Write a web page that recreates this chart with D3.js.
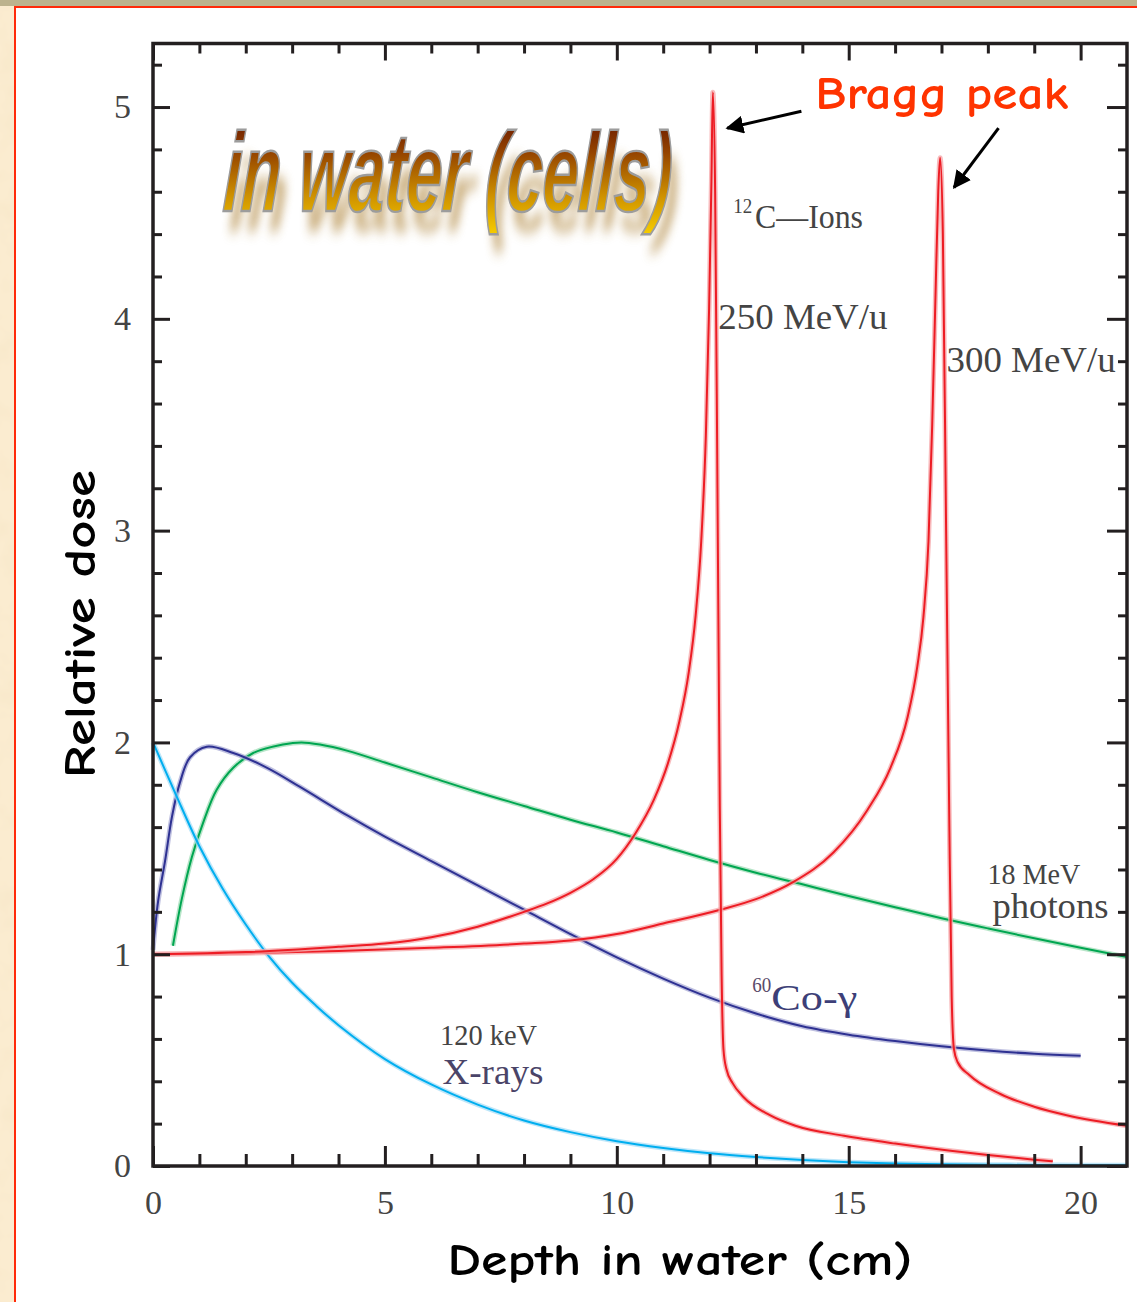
<!DOCTYPE html>
<html>
<head>
<meta charset="utf-8">
<script src="https://cdn.jsdelivr.net/npm/d3@7"></script>
<style>
  html, body { margin: 0; padding: 0; background: #ffffff; overflow: hidden; }
  svg { display: block; }
</style>
</head>
<body>
<svg id="chart" width="1137" height="1302"></svg>
<script>
// ---- Depth-dose data (depth in cm, relative dose) ----
const xrayDepth = [0,0.5,1,1.5,2,2.5,3,3.5,4,5,6,7,8,9,10,11,12,13,14,15,16,17,18,19,20,21];
const xrayDose  = [2.0,1.75,1.51,1.31,1.14,0.99,0.865,0.76,0.665,0.505,0.385,0.29,0.215,0.16,0.117,0.085,0.06,0.042,0.028,0.018,0.012,0.008,0.006,0.005,0.004,0.003];

const cobaltDepth = [0,0.11,0.26,0.41,0.58,0.8,1.16,1.73,2.46,3.17,4.19,5,6,7,8,9,10,11,12,13,14,15,16,17,18,19,20];
const cobaltDose  = [1.02,1.25,1.44,1.65,1.81,1.93,1.98,1.95,1.88,1.79,1.655,1.555,1.44,1.325,1.21,1.095,0.985,0.885,0.795,0.72,0.66,0.62,0.59,0.565,0.545,0.53,0.52];

const photonDepth = [0.43,0.62,0.84,1.08,1.37,1.73,2.16,2.8,3.2,3.6,4.2,5,6,7,8,9,10,11,12,13,14,15,16,17,18,19,20,21];
const photonDose  = [1.04,1.26,1.46,1.62,1.775,1.88,1.95,1.99,2.0,1.99,1.96,1.905,1.835,1.765,1.7,1.635,1.575,1.51,1.445,1.385,1.33,1.275,1.222,1.17,1.122,1.075,1.03,0.987];

const carbon250Depth = [0,2,4,5,6,7,8,8.5,9,9.5,10,10.4,10.8,11.1,11.35,11.55,11.7,11.82,11.92,11.99,12.04,12.07,12.12,12.17,12.22,12.26,12.3,12.36,12.5,12.73,13.3,13.85,14.9,16,17.15,18,19,19.4];
const carbon250Dose  = [1.0,1.01,1.035,1.05,1.08,1.13,1.2,1.24,1.29,1.355,1.45,1.57,1.73,1.9,2.1,2.33,2.6,2.95,3.45,4.05,4.65,5.07,4.6,3.2,1.7,0.9,0.55,0.46,0.39,0.326,0.24,0.19,0.143,0.106,0.073,0.052,0.03,0.022];

const carbon300Depth = [0,2,4,6,8,9,10,11,12.23,13,13.8,14.67,15.4,15.9,16.27,16.48,16.61,16.72,16.8,16.87,16.93,16.97,17.03,17.1,17.17,17.22,17.27,17.35,17.6,18.27,19,19.7,21];
const carbon300Dose  = [1.0,1.005,1.015,1.03,1.05,1.065,1.095,1.145,1.21,1.26,1.34,1.48,1.68,1.88,2.12,2.36,2.59,2.95,3.5,4.1,4.6,4.76,4.4,3.0,1.6,0.8,0.55,0.49,0.43,0.34,0.28,0.24,0.19];

// ---- Axis ticks ----
const xMajorTicks = [0,5,10,15,20];
const xTickLabels = ["0","5","10","15","20"];
const yMajorTicks = [0,1,2,3,4,5];
const yTickLabels = ["0","1","2","3","4","5"];

const svg = d3.select("#chart");
const W = 1137, H = 1302;

const x = d3.scaleLinear().domain([0, 21]).range([153, 1127]);
const y = d3.scaleLinear().domain([0, 5.3]).range([1166, 43.5]);

const defs = svg.append("defs");

// paper texture for the slide border
const paper = defs.append("filter").attr("id", "paper").attr("x", 0).attr("y", 0).attr("width", 1).attr("height", 1);
paper.append("feTurbulence").attr("type", "fractalNoise").attr("baseFrequency", 0.035).attr("numOctaves", 3).attr("seed", 7).attr("result", "noise");
paper.append("feColorMatrix").attr("in", "noise").attr("type", "matrix")
  .attr("values", "0 0 0 0 0.93  0 0 0 0 0.80  0 0 0 0 0.58  1.6 0 0 0 -0.7");

// WordArt gradient + shadow blur
const grad = defs.append("linearGradient").attr("id", "goldGrad")
  .attr("x1", 0).attr("y1", 0).attr("x2", 0).attr("y2", 1);
grad.append("stop").attr("offset", "0%").attr("stop-color", "#5c0c00");
grad.append("stop").attr("offset", "35%").attr("stop-color", "#954400");
grad.append("stop").attr("offset", "70%").attr("stop-color", "#cf9200");
grad.append("stop").attr("offset", "100%").attr("stop-color", "#f6cc00");
defs.append("filter").attr("id", "softShadow").attr("x", "-10%").attr("y", "-30%").attr("width", "120%").attr("height", "160%")
  .append("feGaussianBlur").attr("stdDeviation", 4.5);

// arrowhead
defs.append("marker").attr("id", "arrowHead")
  .attr("viewBox", "0 0 10 10").attr("refX", 9).attr("refY", 5)
  .attr("markerWidth", 6).attr("markerHeight", 6).attr("markerUnits", "strokeWidth")
  .attr("orient", "auto")
  .append("path").attr("d", "M0,0 L10,5 L0,10 Z").attr("fill", "#000");

// ---- Slide background ----
svg.append("rect").attr("width", W).attr("height", H).attr("fill", "#fbecd0");
svg.append("rect").attr("width", W).attr("height", H).attr("filter", "url(#paper)");
svg.append("rect").attr("x", 0).attr("y", 0).attr("width", W).attr("height", 6).attr("fill", "#bcb38e");
svg.append("rect").attr("x", 15).attr("y", 7).attr("width", W + 20).attr("height", H + 20)
  .attr("fill", "#ffffff").attr("stroke", "#ff2a0a").attr("stroke-width", 2);

// ---- Curves ----
const smoothLine = d3.line().x(d => x(d[0])).y(d => y(d[1])).curve(d3.curveCatmullRom.alpha(0.5));
const peakLine = d3.line().x(d => x(d[0])).y(d => y(d[1])).curve(d3.curveMonotoneX);

const series = [
  { depth: photonDepth,   dose: photonDose,   color: "#00a651", halo: "#9fdcb6", gen: smoothLine },
  { depth: cobaltDepth,   dose: cobaltDose,   color: "#2e3192", halo: "#a9abd6", gen: smoothLine },
  { depth: xrayDepth,     dose: xrayDose,     color: "#00aeef", halo: "#a8def7", gen: smoothLine },
  { depth: carbon300Depth, dose: carbon300Dose, color: "#ed1c24", halo: "#f6a5a8", gen: peakLine },
  { depth: carbon250Depth, dose: carbon250Dose, color: "#ed1c24", halo: "#f6a5a8", gen: peakLine }
];

const curves = svg.append("g").attr("fill", "none");
series.forEach(s => {
  const pts = d3.zip(s.depth, s.dose);
  curves.append("path").attr("d", s.gen(pts)).attr("stroke", s.halo)
    .attr("stroke-width", 5).attr("stroke-opacity", 0.75).attr("stroke-linejoin", "round");
  curves.append("path").attr("d", s.gen(pts)).attr("stroke", s.color)
    .attr("stroke-width", 2).attr("stroke-linejoin", "round");
});

// ---- Frame and ticks ----
const axisColor = "#231f20";
function styleTicks(g) {
  g.select(".domain").remove();
  g.selectAll(".tick line").attr("stroke", axisColor).attr("stroke-width", 3);
}
const xMinorTicks = d3.range(1, 21).filter(d => d % 5 !== 0);
const yMinorTicks = d3.range(1, 27).map(i => +(i * 0.2).toFixed(1)).filter(v => Math.abs(v - Math.round(v)) > 1e-6);

const axes = svg.append("g");
axes.append("g").attr("transform", `translate(0,${y(0)})`)
  .call(d3.axisBottom(x).tickValues(xMinorTicks).tickSize(-12).tickFormat("")).call(styleTicks);
axes.append("g").attr("transform", `translate(0,${y(0)})`)
  .call(d3.axisBottom(x).tickValues(xMajorTicks).tickSize(-20).tickFormat("")).call(styleTicks);
axes.append("g").attr("transform", `translate(0,${y(5.3)})`)
  .call(d3.axisTop(x).tickValues(xMinorTicks).tickSize(-10).tickFormat("")).call(styleTicks);
axes.append("g").attr("transform", `translate(0,${y(5.3)})`)
  .call(d3.axisTop(x).tickValues(xMajorTicks).tickSize(-17).tickFormat("")).call(styleTicks);
axes.append("g").attr("transform", `translate(${x(0)},0)`)
  .call(d3.axisLeft(y).tickValues(yMinorTicks).tickSize(-9).tickFormat("")).call(styleTicks);
axes.append("g").attr("transform", `translate(${x(0)},0)`)
  .call(d3.axisLeft(y).tickValues(yMajorTicks).tickSize(-17).tickFormat("")).call(styleTicks);
axes.append("g").attr("transform", `translate(${x(21)},0)`)
  .call(d3.axisRight(y).tickValues(yMinorTicks).tickSize(-9).tickFormat("")).call(styleTicks);
axes.append("g").attr("transform", `translate(${x(21)},0)`)
  .call(d3.axisRight(y).tickValues(yMajorTicks).tickSize(-20).tickFormat("")).call(styleTicks);

axes.append("rect")
  .attr("x", x(0)).attr("y", y(5.3)).attr("width", x(21) - x(0)).attr("height", y(0) - y(5.3))
  .attr("fill", "none").attr("stroke", axisColor).attr("stroke-width", 3.5);

// tick labels
const tickFont = "'Liberation Serif', 'Times New Roman', serif";
const xl = svg.append("g").attr("transform", `translate(0,${y(0)})`)
  .call(d3.axisBottom(x).tickValues(xMajorTicks).tickSize(0).tickPadding(24)
    .tickFormat((d, i) => xTickLabels[i]));
xl.select(".domain").remove();
xl.selectAll("text").attr("font-family", tickFont).attr("font-size", 34).attr("fill", "#444");

const yl = svg.append("g").attr("transform", `translate(${x(0)},0)`)
  .call(d3.axisLeft(y).tickValues(yMajorTicks).tickSize(0).tickPadding(22)
    .tickFormat((d, i) => yTickLabels[i]));
yl.select(".domain").remove();
yl.selectAll("text").attr("font-family", tickFont).attr("font-size", 34).attr("fill", "#444");

// ---- Axis titles ----
const comic = "'Comic Sans MS', 'Comic Neue', 'Lato', sans-serif";
svg.append("text")
  .attr("x", 680).attr("y", 1275).attr("text-anchor", "middle")
  .attr("font-family", comic).attr("font-weight", "bold").attr("font-size", 44)
  .attr("textLength", 465).attr("lengthAdjust", "spacingAndGlyphs")
  .attr("fill", "#000").text("Depth in water (cm)");

svg.append("text")
  .attr("transform", "translate(95,624) rotate(-90)").attr("text-anchor", "middle")
  .attr("font-family", comic).attr("font-weight", "bold").attr("font-size", 44)
  .attr("textLength", 308).attr("lengthAdjust", "spacingAndGlyphs")
  .attr("fill", "#000").text("Relative dose");

// ---- WordArt heading ----
const wa = svg.append("g");
wa.append("text")
  .attr("transform", `translate(${x(1.49) + 6},${y(4.51) + 20}) scale(1,1.55) skewX(-6)`)
  .attr("font-family", "'Liberation Sans', Arial, sans-serif").attr("font-weight", "bold")
  .attr("font-style", "italic").attr("font-size", 64)
  .attr("textLength", 448).attr("lengthAdjust", "spacingAndGlyphs")
  .attr("fill", "#a87a2a").attr("opacity", 0.6).attr("filter", "url(#softShadow)")
  .text("in water (cells)");
wa.append("text")
  .attr("transform", `translate(${x(1.49)},${y(4.51)}) scale(1,1.75) skewX(-6)`)
  .attr("font-family", "'Liberation Sans', Arial, sans-serif").attr("font-weight", "bold")
  .attr("font-style", "italic").attr("font-size", 64)
  .attr("textLength", 448).attr("lengthAdjust", "spacingAndGlyphs")
  .attr("fill", "url(#goldGrad)").attr("stroke", "#9c9c9c").attr("stroke-width", 1.4)
  .text("in water (cells)");

// ---- Curve labels ----
function label(d, v, txt, size, len, color) {
  return svg.append("text").attr("x", x(d)).attr("y", y(v))
    .attr("font-family", tickFont).attr("font-size", size)
    .attr("textLength", len).attr("lengthAdjust", "spacingAndGlyphs")
    .attr("fill", color || "#444").text(txt);
}
label(12.51, 4.50, "12", 20, 19);
label(12.98, 4.43, "C\u2014Ions", 34, 108);
label(12.19, 3.95, "250 MeV/u", 36, 169);
label(17.11, 3.75, "300 MeV/u", 36, 169);
label(17.99, 1.33, "18 MeV", 29, 93);
label(18.1, 1.17, "photons", 35, 116);
label(12.92, 0.82, "60", 20, 19, "#5a4a6a");
label(13.33, 0.735, "Co-\u03b3", 36, 86, "#3d3f78");
label(6.19, 0.57, "120 keV", 29, 97);
label(6.24, 0.385, "X-rays", 35, 101, "#4a4468");

// ---- Bragg peak annotation ----
svg.append("text").attr("x", x(14.28)).attr("y", y(4.99))
  .attr("font-family", comic).attr("font-weight", "bold").attr("font-size", 46)
  .attr("textLength", 253).attr("lengthAdjust", "spacingAndGlyphs")
  .attr("fill", "#ff3300").text("Bragg peak");

const arrows = [
  { from: [13.98, 4.98], to: [12.38, 4.9] },
  { from: [18.23, 4.9], to: [17.27, 4.62] }
];
svg.append("g").selectAll("line").data(arrows).join("line")
  .attr("x1", d => x(d.from[0])).attr("y1", d => y(d.from[1]))
  .attr("x2", d => x(d.to[0])).attr("y2", d => y(d.to[1]))
  .attr("stroke", "#000").attr("stroke-width", 3)
  .attr("marker-end", "url(#arrowHead)");
</script>
</body>
</html>
